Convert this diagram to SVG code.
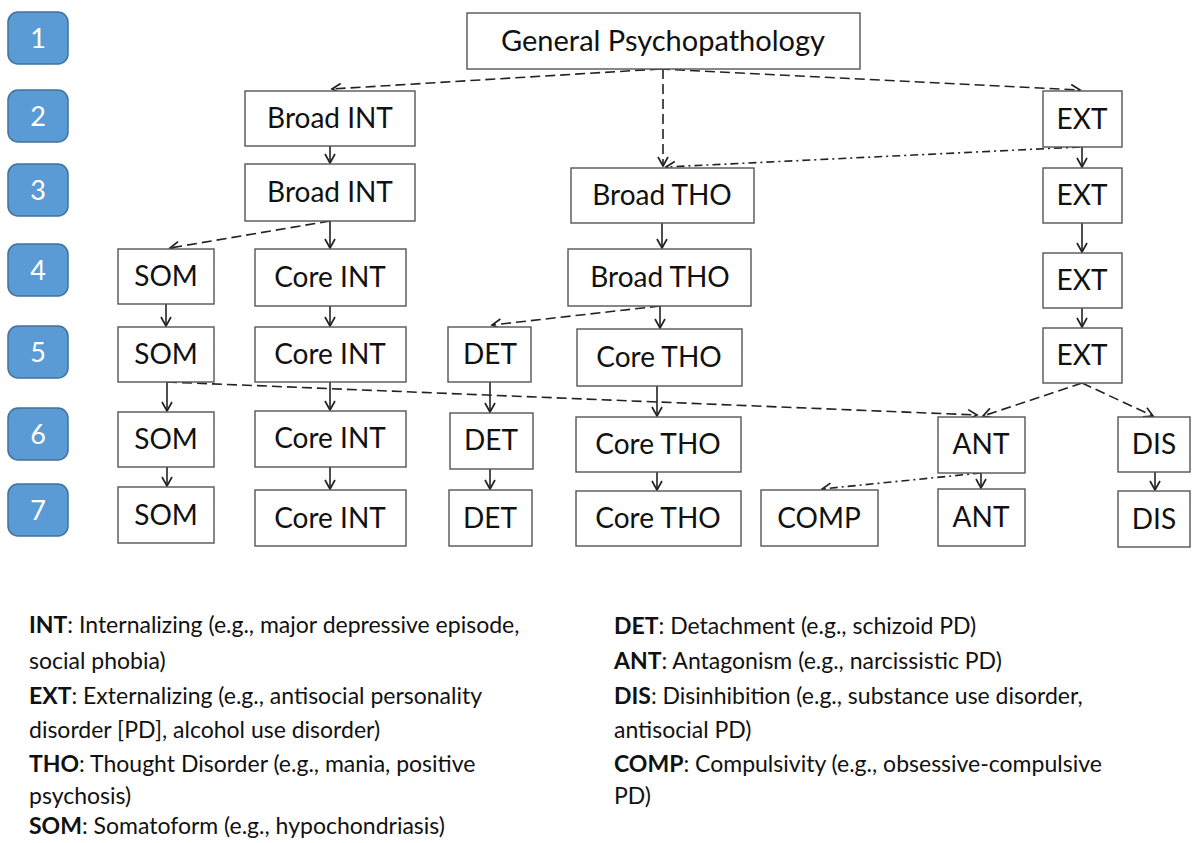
<svg xmlns="http://www.w3.org/2000/svg" width="1192" height="843" viewBox="0 0 1192 843">
<style>
.badge rect{fill:#5b9bd5;stroke:#41719c;stroke-width:1.5}
.badge text{fill:#fff;font-family:Lato,"Open Sans",sans-serif;font-size:27px;text-anchor:middle}
.node rect{fill:#fff;stroke:#555;stroke-width:1.4}
.node text{fill:#111;font-family:Lato,"Open Sans",sans-serif;font-size:28px;text-anchor:middle}
.c line{stroke:#222;stroke-width:1.6;fill:none}
.solid{marker-end:url(#ah)}
.dash{stroke-dasharray:10 5;marker-end:url(#ah)}
.dd{stroke-dasharray:8 4 2 4;marker-end:url(#ah)}
.leg{fill:#111;font-family:Lato,"Open Sans",sans-serif;font-size:23px}
.leg tspan.b{font-weight:bold}
</style>
<defs>
<marker id="ah" markerUnits="userSpaceOnUse" markerWidth="14" markerHeight="14" refX="9" refY="5" orient="auto" overflow="visible">
<path d="M0,0 L9,5 L0,10" fill="none" stroke="#222" stroke-width="1.7" stroke-dasharray="none"/>
</marker>
</defs>
<rect width="1192" height="843" fill="#fff"/>
<g id="badges">
<g id="badge1" class="badge"><rect x="8" y="12" width="60" height="52" rx="10"/><text x="38" y="48">1</text></g>
<g id="badge2" class="badge"><rect x="8" y="90" width="60" height="52" rx="10"/><text x="38" y="126">2</text></g>
<g id="badge3" class="badge"><rect x="8" y="164" width="60" height="52" rx="10"/><text x="38" y="200">3</text></g>
<g id="badge4" class="badge"><rect x="8" y="244" width="60" height="52" rx="10"/><text x="38" y="280">4</text></g>
<g id="badge5" class="badge"><rect x="8" y="326" width="60" height="52" rx="10"/><text x="38" y="362">5</text></g>
<g id="badge6" class="badge"><rect x="8" y="408" width="60" height="52" rx="10"/><text x="38" y="444">6</text></g>
<g id="badge7" class="badge"><rect x="8" y="484" width="60" height="52" rx="10"/><text x="38" y="520">7</text></g>
</g>
<g id="connectors" class="c">
<line class="dash" x1="660" y1="69" x2="332" y2="89"/>
<line class="dash" x1="660" y1="69" x2="1080" y2="90"/>
<line class="dash" x1="663" y1="69" x2="663" y2="166"/>
<line class="dd" x1="1080" y1="147" x2="666" y2="167"/>
<line class="solid" x1="330" y1="146" x2="330" y2="163"/>
<line class="dash" x1="330" y1="221" x2="170" y2="248"/>
<line class="solid" x1="330" y1="221" x2="330" y2="248"/>
<line class="solid" x1="1082" y1="147" x2="1082" y2="167"/>
<line class="solid" x1="1082" y1="223" x2="1082" y2="252"/>
<line class="solid" x1="1082" y1="308" x2="1082" y2="327"/>
<line class="solid" x1="662" y1="223" x2="662" y2="248"/>
<line class="solid" x1="166" y1="304" x2="166" y2="326"/>
<line class="solid" x1="330" y1="306" x2="330" y2="326"/>
<line class="dash" x1="660" y1="306" x2="492" y2="325"/>
<line class="solid" x1="660" y1="306" x2="660" y2="328"/>
<line class="dash" x1="167" y1="382" x2="977" y2="415"/>
<line class="solid" x1="167" y1="382" x2="167" y2="411"/>
<line class="solid" x1="330" y1="382" x2="330" y2="410"/>
<line class="solid" x1="490" y1="382" x2="490" y2="412"/>
<line class="solid" x1="657" y1="386" x2="657" y2="416"/>
<line class="dash" x1="1082" y1="383" x2="983" y2="416"/>
<line class="dash" x1="1082" y1="383" x2="1153" y2="416"/>
<line class="solid" x1="167" y1="467" x2="167" y2="486"/>
<line class="solid" x1="330" y1="467" x2="330" y2="489"/>
<line class="solid" x1="490" y1="469" x2="490" y2="489"/>
<line class="solid" x1="657" y1="472" x2="657" y2="490"/>
<line class="solid" x1="981" y1="473" x2="981" y2="488"/>
<line class="dd" x1="981" y1="473" x2="822" y2="489"/>
<line class="solid" x1="1155" y1="472" x2="1155" y2="490"/>
</g>
<g id="gp" class="node"><rect x="467" y="13" width="393" height="56"/><text x="663" y="51" style="font-size:29px">General Psychopathology</text></g>
<g id="bint2" class="node"><rect x="245" y="91" width="170" height="55"/><text x="330" y="128">Broad INT</text></g>
<g id="bint3" class="node"><rect x="245" y="164" width="170" height="57"/><text x="330" y="202">Broad INT</text></g>
<g id="bth3" class="node"><rect x="571" y="168" width="183" height="55"/><text x="662" y="205">Broad THO</text></g>
<g id="ext2" class="node"><rect x="1043" y="91" width="79" height="56"/><text x="1082" y="129">EXT</text></g>
<g id="ext3" class="node"><rect x="1043" y="168" width="79" height="55"/><text x="1082" y="205">EXT</text></g>
<g id="ext4" class="node"><rect x="1043" y="253" width="79" height="55"/><text x="1082" y="290">EXT</text></g>
<g id="ext5" class="node"><rect x="1043" y="328" width="79" height="55"/><text x="1082" y="365">EXT</text></g>
<g id="som4" class="node"><rect x="118" y="249" width="96" height="55"/><text x="166" y="286">SOM</text></g>
<g id="cint4" class="node"><rect x="255" y="249" width="151" height="57"/><text x="330" y="287">Core INT</text></g>
<g id="bth4" class="node"><rect x="568" y="249" width="183" height="57"/><text x="660" y="287">Broad THO</text></g>
<g id="som5" class="node"><rect x="118" y="327" width="96" height="55"/><text x="166" y="364">SOM</text></g>
<g id="cint5" class="node"><rect x="255" y="327" width="151" height="55"/><text x="330" y="364">Core INT</text></g>
<g id="det5" class="node"><rect x="448" y="327" width="83" height="55"/><text x="490" y="364">DET</text></g>
<g id="cth5" class="node"><rect x="577" y="329" width="165" height="57"/><text x="659" y="367">Core THO</text></g>
<g id="som6" class="node"><rect x="118" y="412" width="96" height="55"/><text x="166" y="449">SOM</text></g>
<g id="cint6" class="node"><rect x="255" y="411" width="151" height="56"/><text x="330" y="448">Core INT</text></g>
<g id="det6" class="node"><rect x="450" y="413" width="83" height="56"/><text x="491" y="450">DET</text></g>
<g id="cth6" class="node"><rect x="576" y="417" width="165" height="55"/><text x="658" y="454">Core THO</text></g>
<g id="ant6" class="node"><rect x="938" y="417" width="87" height="56"/><text x="981" y="454">ANT</text></g>
<g id="dis6" class="node"><rect x="1118" y="417" width="72" height="55"/><text x="1154" y="454">DIS</text></g>
<g id="som7" class="node"><rect x="118" y="487" width="96" height="56"/><text x="166" y="525">SOM</text></g>
<g id="cint7" class="node"><rect x="255" y="490" width="151" height="56"/><text x="330" y="528">Core INT</text></g>
<g id="det7" class="node"><rect x="449" y="490" width="83" height="56"/><text x="490" y="528">DET</text></g>
<g id="cth7" class="node"><rect x="576" y="491" width="165" height="55"/><text x="658" y="528">Core THO</text></g>
<g id="comp7" class="node"><rect x="761" y="490" width="117" height="56"/><text x="819" y="528">COMP</text></g>
<g id="ant7" class="node"><rect x="938" y="489" width="87" height="57"/><text x="981" y="527">ANT</text></g>
<g id="dis7" class="node"><rect x="1118" y="491" width="72" height="56"/><text x="1154" y="529">DIS</text></g>
<g id="legend">
<text class="leg" x="29" y="633"><tspan class="b">INT</tspan>: Internalizing (e.g., major depressive episode,</text>
<text class="leg" x="29" y="669">social phobia)</text>
<text class="leg" x="29" y="704"><tspan class="b">EXT</tspan>: Externalizing (e.g., antisocial personality</text>
<text class="leg" x="29" y="738">disorder [PD], alcohol use disorder)</text>
<text class="leg" x="29" y="772"><tspan class="b">THO</tspan>: Thought Disorder (e.g., mania, positive</text>
<text class="leg" x="29" y="804">psychosis)</text>
<text class="leg" x="29" y="834"><tspan class="b">SOM</tspan>: Somatoform (e.g., hypochondriasis)</text>
<text class="leg" x="614" y="634"><tspan class="b">DET</tspan>: Detachment (e.g., schizoid PD)</text>
<text class="leg" x="614" y="669"><tspan class="b">ANT</tspan>: Antagonism (e.g., narcissistic PD)</text>
<text class="leg" x="614" y="704"><tspan class="b">DIS</tspan>: Disinhibition (e.g., substance use disorder,</text>
<text class="leg" x="614" y="738">antisocial PD)</text>
<text class="leg" x="614" y="772"><tspan class="b">COMP</tspan>: Compulsivity (e.g., obsessive-compulsive</text>
<text class="leg" x="614" y="804">PD)</text>
</g>
</svg>
